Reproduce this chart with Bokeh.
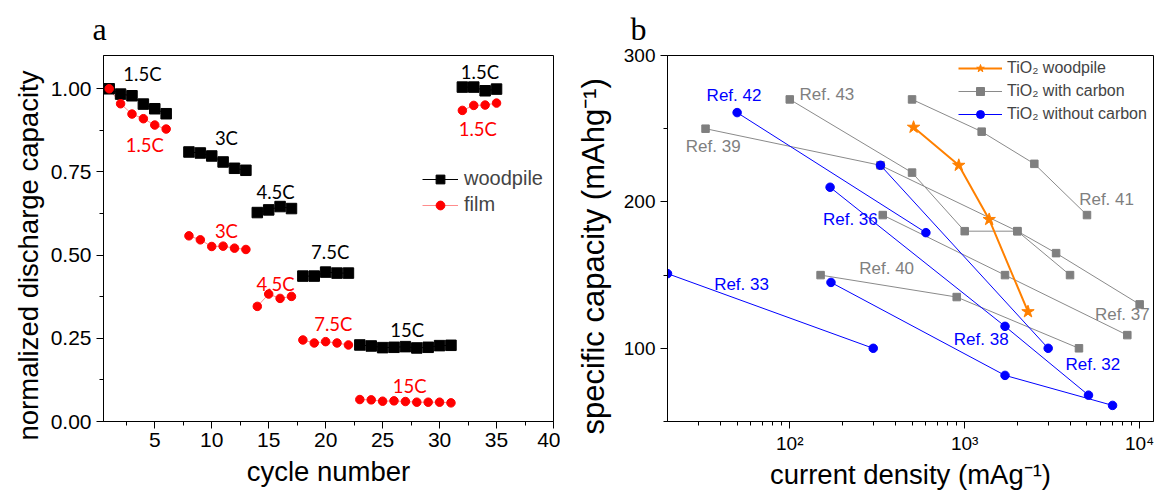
from bokeh.plotting import figure
from bokeh.layouts import row
from bokeh.models import (Range1d, FixedTicker, PrintfTickFormatter, Legend, LegendItem,
                          Title, CustomJSTickFormatter)
from bokeh.core.properties import value
from bokeh.embed import file_html
from bokeh.resources import INLINE

# ---------------- panel a: rate capability ----------------
cycle = [1, 2, 3, 4, 5, 6,
         8, 9, 10, 11, 12, 13,
         14, 15, 16, 17,
         18, 19, 20, 21, 22,
         23, 24, 25, 26, 27, 28, 29, 30, 31,
         32, 33, 34, 35]
block_sizes = [6, 6, 4, 5, 9, 4]
woodpile = [1.000, 0.984, 0.979, 0.954, 0.940, 0.925,
            0.810, 0.807, 0.798, 0.780, 0.761, 0.755,
            0.628, 0.636, 0.646, 0.640,
            0.437, 0.437, 0.449, 0.446, 0.446,
            0.230, 0.227, 0.222, 0.223, 0.225, 0.221, 0.223, 0.228, 0.229,
            1.005, 1.005, 0.994, 0.999]
film = [1.000, 0.955, 0.924, 0.910, 0.891, 0.879,
        0.558, 0.546, 0.526, 0.527, 0.521, 0.517,
        0.346, 0.383, 0.370, 0.376,
        0.245, 0.236, 0.240, 0.236, 0.230,
        0.066, 0.065, 0.061, 0.062, 0.060, 0.058, 0.058, 0.058, 0.056,
        0.935, 0.950, 0.951, 0.957]

rate_text = ["1.5C", "3C", "4.5C", "7.5C", "15C", "1.5C"]
wood_rate_x = [3.92, 11.29, 15.6, 20.4, 27.16, 33.54]
wood_rate_y = [1.044, 0.852, 0.690, 0.510, 0.276, 1.049]
film_rate_x = [4.12, 11.29, 15.6, 20.67, 27.37, 33.36]
film_rate_y = [0.830, 0.574, 0.413, 0.293, 0.106, 0.880]

left_x_ticks = [5, 10, 15, 20, 25, 30, 35, 40]
left_y_ticks = [0.0, 0.25, 0.5, 0.75, 1.0]

# ---------------- panel b: comparison with literature ----------------
tio2_woodpile_j = [510, 925, 1380, 2300]
tio2_woodpile_c = [251, 225, 188, 125]

# TiO2 with carbon
ref39_j = [33, 330, 2000, 3330, 10000]
ref39_c = [250, 225, 180, 165, 130]
ref43_j = [100, 500, 1000, 2000, 4000]
ref43_c = [270, 220, 180, 180, 150]
ref41_j = [500, 1250, 2500, 5000]
ref41_c = [270, 248, 226, 191]
ref37_j = [340, 1700, 8500]
ref37_c = [191, 150, 109]
ref40_j = [150, 900, 4500]
ref40_c = [150, 135, 100]

# TiO2 without carbon
ref42_j = [50, 600]
ref42_c = [261, 179]
ref36_j = [330, 3000]
ref36_c = [225, 100]
ref38_j = [170, 1700, 5100]
ref38_c = [210, 115, 68]
ref32_j = [172, 1700, 7000]
ref32_c = [145, 81.5, 61]
ref33_j = [20, 300]
ref33_c = [151, 100]

ref_text = ["Ref. 42", "Ref. 43", "Ref. 39", "Ref. 41", "Ref. 36",
            "Ref. 40", "Ref. 33", "Ref. 37", "Ref. 38", "Ref. 32"]
ref_text_x = [48, 163, 36.5, 6470, 222, 358, 53, 7960, 1243, 5400]
ref_text_y = [272.5, 273.7, 237.9, 201.6, 188.2, 154.7, 143.8, 123.4, 106.3, 88.8]
ref_is_carbon = [False, True, True, True, False, True, False, True, False, False]

right_x_ticks = [100, 1000, 10000]
right_y_ticks = [100, 200, 300]

SANS = "Liberation Sans"
SERIF = "Liberation Serif"
BLUE = "#0000ff"
GREY = "#7f7f7f"
GREY_LINE = "#8a8a8a"
ORANGE = "#ff8000"
RED = "#ff0000"


def style_axes(p, tick_size):
    p.xgrid.visible = False
    p.ygrid.visible = False
    p.outline_line_color = "black"
    p.outline_line_width = 1
    for ax in (p.xaxis[0], p.yaxis[0]):
        ax.axis_line_color = "black"
        ax.axis_line_width = 1
        ax.major_tick_line_color = "black"
        ax.minor_tick_line_color = "black"
        ax.major_tick_in = 0
        ax.major_tick_out = 7
        ax.minor_tick_in = 0
        ax.minor_tick_out = 4
        ax.major_label_text_font = SANS
        ax.major_label_text_font_size = tick_size
        ax.major_label_text_color = "black"
        ax.axis_label_text_font = SANS
        ax.axis_label_text_font_size = "27.5px"
        ax.axis_label_text_font_style = "normal"
        ax.axis_label_text_color = "black"


def panel_letter(p, letter, offset):
    p.title.text = letter
    p.title.align = "left"
    p.title.offset = offset
    p.title.standoff = 17
    p.title.text_font = SERIF
    p.title.text_font_size = "32px"
    p.title.text_font_style = "normal"
    p.title.text_color = "black"


def side_label(p, text, offset, size, standoff):
    # vertical label drawn from the bottom of the frame upwards, shifted by offset
    t = Title(text=text, align="left", offset=offset, standoff=standoff,
              text_font=SANS, text_font_size=size, text_font_style="normal",
              text_color="black")
    p.add_layout(t, "left")


# ---- figure a ----
p1 = figure(width=560, height=494, x_range=Range1d(0.5, 40), y_range=Range1d(0, 1.1),
            output_backend="svg", toolbar_location=None,
            min_border_left=103, min_border_right=7, min_border_top=54, min_border_bottom=73)
style_axes(p1, "21px")
panel_letter(p1, "a", -11)
p1.xaxis.ticker = FixedTicker(ticks=left_x_ticks,
                              minor_ticks=[t - 2.5 for t in left_x_ticks])
p1.yaxis.ticker = FixedTicker(ticks=left_y_ticks,
                              minor_ticks=[t + 0.125 for t in left_y_ticks[:-1]])
p1.yaxis.formatter = PrintfTickFormatter(format="%.2f")
p1.xaxis.axis_label = "cycle number"
p1.xaxis.major_label_standoff = 4
p1.yaxis.major_label_standoff = 5
p1.xaxis.axis_label_standoff = 6
side_label(p1, "normalized discharge capacity", -19, "27.5px", 8)

wood_lines, film_lines = [], []
start = 0
for n in block_sizes:
    seg = slice(start, start + n)
    wood_lines.append(p1.line(cycle[seg], woodpile[seg], line_color="black", line_width=1))
    film_lines.append(p1.line(cycle[seg], film[seg], line_color=RED, line_alpha=0.45,
                              line_width=1))
    start += n
wood_pts = p1.scatter(cycle, woodpile, marker="square", size=10.5, fill_color="black",
                      line_color="black")
film_pts = p1.scatter(cycle, film, marker="circle", size=8.5, fill_color=RED, line_color=RED)

p1.text(wood_rate_x, wood_rate_y, text=rate_text, text_align="center",
        text_baseline="middle", text_font=value("Lato"), text_font_size="18.5px",
        text_color="black")
p1.text(film_rate_x, film_rate_y, text=rate_text, text_align="center",
        text_baseline="middle", text_font=value("Lato"), text_font_size="18.5px",
        text_color=RED)

leg1 = Legend(items=[LegendItem(label="woodpile", renderers=[wood_lines[0], wood_pts]),
                     LegendItem(label="film", renderers=[film_lines[0], film_pts])],
              location=(319, 205), padding=0, margin=0, spacing=3,
              glyph_width=36, glyph_height=22, label_height=22, label_standoff=6,
              label_text_font=SANS, label_text_font_size="20px",
              background_fill_alpha=0, border_line_alpha=0)
p1.add_layout(leg1, "center")

# ---- figure b ----
p2 = figure(width=595, height=494, x_axis_type="log",
            x_range=Range1d(20, 12000), y_range=Range1d(50, 300),
            output_backend="svg", toolbar_location=None,
            min_border_left=107, min_border_right=2, min_border_top=54, min_border_bottom=67)
style_axes(p2, "19px")
panel_letter(p2, "b", -37)
minor_x = [m * 10 ** e for e in (1, 2, 3) for m in range(2, 10) if m * 10 ** e > 20]
p2.xaxis.ticker = FixedTicker(ticks=right_x_ticks, minor_ticks=minor_x)
p2.xaxis.formatter = CustomJSTickFormatter(code="""
    const sup = {2: '\u00b2', 3: '\u00b3', 4: '\u2074'};
    const e = Math.round(Math.log10(tick));
    return '10' + (sup[e] || String(e));
""")
p2.yaxis.ticker = FixedTicker(ticks=right_y_ticks, minor_ticks=[50, 150, 250])
p2.xaxis.axis_label = "current density (mAg\u207b\u00b9)"
p2.xaxis.major_label_standoff = 4
p2.yaxis.major_label_standoff = 5
p2.xaxis.axis_label_standoff = 2
side_label(p2, "specific capacity (mAhg\u207b\u00b9)", -13, "31px", 20)

carbon_refs = [(ref39_j, ref39_c), (ref43_j, ref43_c), (ref41_j, ref41_c),
               (ref37_j, ref37_c), (ref40_j, ref40_c)]
bare_refs = [(ref42_j, ref42_c), (ref36_j, ref36_c), (ref38_j, ref38_c),
             (ref32_j, ref32_c), (ref33_j, ref33_c)]

carbon_r = []
for j, c in carbon_refs:
    ln = p2.line(j, c, line_color=GREY_LINE, line_width=1)
    sc = p2.scatter(j, c, marker="square", size=7.5, fill_color=GREY, line_color=GREY)
    carbon_r.append((ln, sc))
bare_r = []
for j, c in bare_refs:
    ln = p2.line(j, c, line_color=BLUE, line_width=1)
    sc = p2.scatter(j, c, marker="circle", size=8.5, fill_color=BLUE, line_color=BLUE)
    bare_r.append((ln, sc))
wp_line = p2.line(tio2_woodpile_j, tio2_woodpile_c, line_color=ORANGE, line_width=2)
wp_pts = p2.scatter(tio2_woodpile_j, tio2_woodpile_c, marker="star", size=13,
                    fill_color=ORANGE, line_color=ORANGE)

p2.text(ref_text_x, ref_text_y, text=ref_text, text_align="center", text_baseline="middle",
        text_font=value(SANS), text_font_size="17px",
        text_color=[GREY if cb else BLUE for cb in ref_is_carbon])

leg2 = Legend(items=[LegendItem(label="TiO\u2082 woodpile", renderers=[wp_line, wp_pts]),
                     LegendItem(label="TiO\u2082 with carbon", renderers=list(carbon_r[0])),
                     LegendItem(label="TiO\u2082 without carbon", renderers=list(bare_r[0]))],
              location=(291, 297), padding=0, margin=0, spacing=3,
              glyph_width=44, glyph_height=20, label_height=20, label_standoff=5,
              label_text_font=SANS, label_text_font_size="16px",
              background_fill_alpha=0, border_line_alpha=0)
p2.add_layout(leg2, "center")

layout = row(p1, p2, spacing=0)
open("out.html", "w").write(file_html(layout, INLINE))
